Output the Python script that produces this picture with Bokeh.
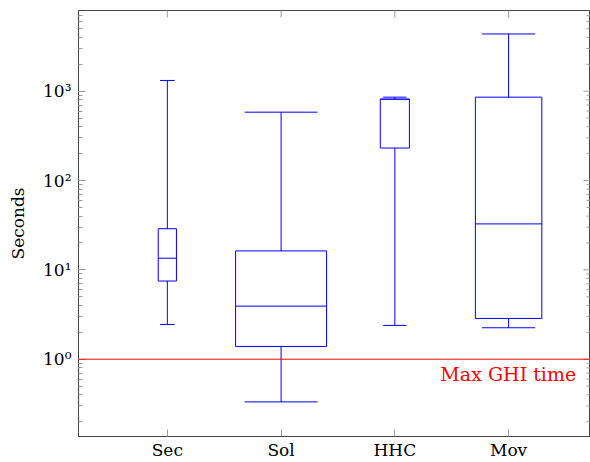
import math
from bokeh.plotting import figure
from bokeh.models import (Range1d, FixedTicker, LogTicker, Span, Label, ColumnDataSource)
from bokeh.embed import file_html
from bokeh.resources import INLINE

# ---- data ----
categories = ["Sec", "Sol", "HHC", "Mov"]
lower_whisker = [2.45, 0.333, 2.39, 2.25]
lower_quartile = [7.5, 1.39, 231.0, 2.86]
median = [13.5, 3.93, 814.0, 32.7]
upper_quartile = [28.9, 16.3, 814.0, 857.0]
upper_whisker = [1318.0, 582.0, 857.0, 4367.0]
y_ticks = [1, 10, 100, 1000]
y_tick_labels = ["10⁰", "10¹", "10²", "10³"]
threshold = 1.0
threshold_label = "Max GHI time"

# ---- styling ----
box_width = [0.16, 0.80, 0.256, 0.584]
cap_ratio = 0.8
FONT = "DejaVu Serif"
BLUE = "#0000ff"
TICK = "#9a9a9a"
FRAME = "#444444"

x_lo, x_hi = 0.219, 4.72
y_lo, y_hi = 10 ** -0.865, 10 ** 3.903

xs = list(range(1, len(categories) + 1))
src = ColumnDataSource(dict(
    x=xs,
    left=[x - w / 2 for x, w in zip(xs, box_width)],
    right=[x + w / 2 for x, w in zip(xs, box_width)],
    cl=[x - w * cap_ratio / 2 for x, w in zip(xs, box_width)],
    cr=[x + w * cap_ratio / 2 for x, w in zip(xs, box_width)],
    lw=lower_whisker, lq=lower_quartile, med=median,
    uq=upper_quartile, uw=upper_whisker,
))

p = figure(width=590, height=462,
           x_range=Range1d(x_lo, x_hi), y_range=Range1d(y_lo, y_hi),
           y_axis_type="log", output_backend="svg", toolbar_location=None,
           min_border_left=78, min_border_right=0, min_border_top=10,
           min_border_bottom=0)
p.grid.visible = False
p.outline_line_color = FRAME
p.outline_line_width = 1

# whiskers
p.segment(x0="x", y0="uq", x1="x", y1="uw", source=src, line_color=BLUE, line_width=1)
p.segment(x0="x", y0="lw", x1="x", y1="lq", source=src, line_color=BLUE, line_width=1)
# caps
p.segment(x0="cl", y0="uw", x1="cr", y1="uw", source=src, line_color=BLUE, line_width=1)
p.segment(x0="cl", y0="lw", x1="cr", y1="lw", source=src, line_color=BLUE, line_width=1)
# boxes
p.quad(left="left", right="right", bottom="lq", top="uq", source=src,
       fill_color=None, line_color=BLUE, line_width=1)
# medians
p.segment(x0="left", y0="med", x1="right", y1="med", source=src, line_color=BLUE, line_width=1)

# threshold line
p.add_layout(Span(location=threshold, dimension="width", line_color="red", line_width=1))
p.add_layout(Label(x=4.594, y=threshold, text=threshold_label, text_color="red",
                   text_font=FONT, text_font_size="19px", text_align="right",
                   text_baseline="middle", y_offset=-15))

# mirrored tick marks on the top and right frame edges (half clipped by the frame)
major_y = [t for t in y_ticks]
minor_y = []
for k in range(math.floor(math.log10(y_lo)), math.ceil(math.log10(y_hi)) + 1):
    for m in range(2, 10):
        v = m * 10 ** k
        if y_lo < v < y_hi:
            minor_y.append(v)
p.scatter(x=[x_hi] * len(major_y), y=major_y, marker="dash", size=14,
          line_color=TICK, line_width=1)
p.scatter(x=[x_hi] * len(minor_y), y=minor_y, marker="dash", size=8,
          line_color=TICK, line_width=1)
p.scatter(x=xs, y=[y_hi] * len(xs), marker="dash", size=14, angle=math.pi / 2,
          line_color=TICK, line_width=1)

# x axis
xa = p.xaxis[0]
xa.ticker = FixedTicker(ticks=xs)
xa.major_label_overrides = {x: c for x, c in zip(xs, categories)}
xa.major_label_text_font = FONT
xa.major_label_text_font_size = "17px"
xa.major_label_text_color = "black"
xa.major_label_standoff = 3
xa.major_tick_in = 7
xa.major_tick_out = 0
xa.major_tick_line_color = TICK
xa.minor_tick_line_color = None
xa.axis_line_color = FRAME

# y axis
ya = p.yaxis[0]
ya.ticker = LogTicker(mantissas=[1], num_minor_ticks=10)
ya.major_label_overrides = {t: l for t, l in zip(y_ticks, y_tick_labels)}
ya.major_label_text_font = FONT
ya.major_label_text_font_size = "17px"
ya.major_label_text_color = "black"
ya.major_label_standoff = 7
ya.major_tick_in = 7
ya.major_tick_out = 0
ya.minor_tick_in = 4
ya.minor_tick_out = 0
ya.major_tick_line_color = TICK
ya.minor_tick_line_color = TICK
ya.axis_line_color = FRAME
ya.axis_label = "Seconds"
ya.axis_label_text_font = FONT
ya.axis_label_text_font_size = "17px"
ya.axis_label_text_font_style = "normal"
ya.axis_label_text_color = "black"
ya.axis_label_standoff = 12

open("out.html", "w").write(file_html(p, INLINE))
